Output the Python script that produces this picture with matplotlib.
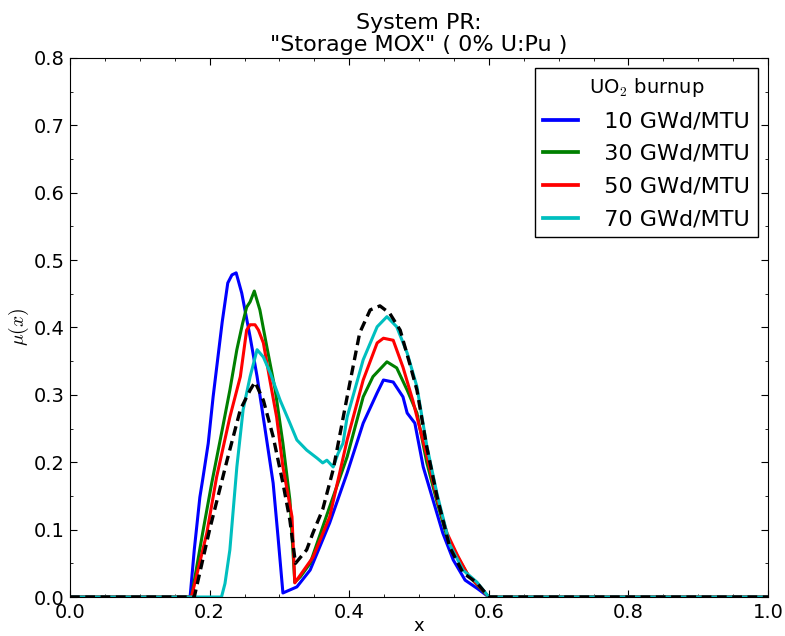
import matplotlib
matplotlib.use("Agg")
import matplotlib.pyplot as plt
from matplotlib.ticker import MultipleLocator

# Burnup series: sampled x and mu(x)
x_10 = [0, 0.172, 0.178, 0.186, 0.19, 0.198, 0.205, 0.218, 0.226, 0.232, 0.238, 0.246, 0.258,
        0.268, 0.279, 0.291, 0.298, 0.305, 0.325, 0.344, 0.372, 0.397, 0.42, 0.44, 0.449, 0.463,
        0.477, 0.483, 0.494, 0.506, 0.52, 0.534, 0.549, 0.566, 0.583, 0.6, 1.0]
y_10 = [0, 0, 0.07, 0.148, 0.174, 0.228, 0.297, 0.408, 0.466, 0.478, 0.481, 0.451, 0.386,
        0.327, 0.252, 0.169, 0.089, 0.006, 0.015, 0.04, 0.11, 0.184, 0.258, 0.303, 0.322, 0.319,
        0.297, 0.273, 0.258, 0.193, 0.144, 0.095, 0.055, 0.025, 0.013, 0, 0]

x_30 = [0, 0.174, 0.19, 0.203, 0.218, 0.229, 0.239, 0.247, 0.253, 0.258, 0.264, 0.272, 0.282,
        0.294, 0.305, 0.315, 0.322, 0.33, 0.344, 0.372, 0.397, 0.42, 0.434, 0.454, 0.468, 0.483,
        0.497, 0.511, 0.526, 0.54, 0.555, 0.57, 0.585, 0.6, 1.0]
y_30 = [0, 0, 0.095, 0.169, 0.248, 0.307, 0.367, 0.405, 0.43, 0.438, 0.454, 0.426, 0.371,
        0.307, 0.228, 0.144, 0.022, 0.03, 0.05, 0.134, 0.208, 0.297, 0.327, 0.349, 0.34, 0.307,
        0.273, 0.2, 0.14, 0.09, 0.06, 0.033, 0.016, 0, 0]

x_50 = [0, 0.174, 0.196, 0.21, 0.229, 0.244, 0.253, 0.258, 0.265, 0.27, 0.277, 0.287, 0.296,
        0.305, 0.318, 0.322, 0.348, 0.372, 0.397, 0.42, 0.44, 0.449, 0.463, 0.477, 0.491, 0.511,
        0.526, 0.54, 0.555, 0.57, 0.585, 0.6, 1.0]
y_50 = [0, 0, 0.095, 0.178, 0.267, 0.327, 0.396, 0.404, 0.404, 0.396, 0.377, 0.318, 0.267,
        0.193, 0.119, 0.021, 0.059, 0.119, 0.233, 0.322, 0.377, 0.384, 0.381, 0.341, 0.292, 0.21,
        0.145, 0.095, 0.062, 0.033, 0.017, 0, 0]

x_70 = [0, 0.217, 0.222, 0.229, 0.239, 0.248, 0.258, 0.268, 0.277, 0.287, 0.301, 0.315, 0.325,
        0.339, 0.354, 0.362, 0.368, 0.377, 0.384, 0.391, 0.397, 0.42, 0.44, 0.454, 0.468, 0.483,
        0.497, 0.511, 0.526, 0.544, 0.563, 0.583, 0.6, 1.0]
y_70 = [0, 0, 0.02, 0.07, 0.193, 0.278, 0.327, 0.367, 0.356, 0.332, 0.292, 0.258, 0.233,
        0.218, 0.206, 0.199, 0.203, 0.193, 0.213, 0.228, 0.267, 0.352, 0.401, 0.416, 0.401, 0.362,
        0.312, 0.225, 0.152, 0.078, 0.04, 0.022, 0, 0]

# Reference (dashed) distribution
x_ref = [0, 0.178, 0.2, 0.225, 0.244, 0.258, 0.265, 0.277, 0.291, 0.305, 0.315, 0.323, 0.339,
         0.348, 0.362, 0.377, 0.397, 0.415, 0.43, 0.444, 0.458, 0.473, 0.487, 0.497, 0.511,
         0.526, 0.544, 0.563, 0.583, 0.6, 1.0]
y_ref = [0, 0, 0.1, 0.203, 0.278, 0.307, 0.319, 0.292, 0.238, 0.169, 0.114, 0.05, 0.07,
         0.095, 0.13, 0.189, 0.297, 0.392, 0.426, 0.432, 0.421, 0.396, 0.345, 0.307, 0.223,
         0.148, 0.074, 0.036, 0.021, 0, 0]

labels = ["  10 GWd/MTU", "  30 GWd/MTU", "  50 GWd/MTU", "  70 GWd/MTU"]
colors = ["#0000ff", "#008000", "#ff0000", "#00bfbf"]

plt.rcParams["font.family"] = ["DejaVu Sans"]
plt.rcParams["mathtext.fontset"] = "cm"
plt.rcParams["lines.scale_dashes"] = False

fig = plt.figure(figsize=(7.85, 6.36), dpi=100, facecolor="white")
ax = fig.add_axes([0.0892, 0.0613, 0.8892, 0.8477])

series = [(x_10, y_10), (x_30, y_30), (x_50, y_50), (x_70, y_70)]
for (xs, ys), lab, col in zip(series, labels, colors):
    ax.plot(xs, ys, color=col, lw=2.2, label=lab)
ax.plot(x_ref, y_ref, color="black", lw=2.4, dashes=(7, 4))

ax.set_xlim(0, 1)
ax.set_ylim(0, 0.8)
ax.xaxis.set_major_locator(MultipleLocator(0.2))
ax.xaxis.set_minor_locator(MultipleLocator(0.05))
ax.yaxis.set_major_locator(MultipleLocator(0.1))
ax.yaxis.set_minor_locator(MultipleLocator(0.05))
ax.tick_params(which="both", direction="in", top=True, right=True, labelsize=14, pad=4)
ax.tick_params(which="major", length=5, width=0.8)
ax.tick_params(which="minor", length=2.5, width=0.6)

ax.set_xlabel("x", fontsize=13, labelpad=-3)
ax.set_ylabel(r"$\mu(x)$", fontsize=14, labelpad=2)
ax.set_title('System PR:\n"Storage MOX" ( 0% U:Pu )', fontsize=16, pad=5, linespacing=1.1)

leg = ax.legend(loc="upper right", fontsize=16, title=r"UO$_2$ burnup", title_fontsize=14,
                fancybox=False, framealpha=1, edgecolor="black", handlelength=1.58,
                handletextpad=0.55, labelspacing=0.57, borderaxespad=0.45, borderpad=0.35)
leg.get_frame().set_linewidth(1.0)
for line in leg.get_lines():
    line.set_linewidth(2.7)

fig.savefig("out.png", dpi=100, facecolor="white")
